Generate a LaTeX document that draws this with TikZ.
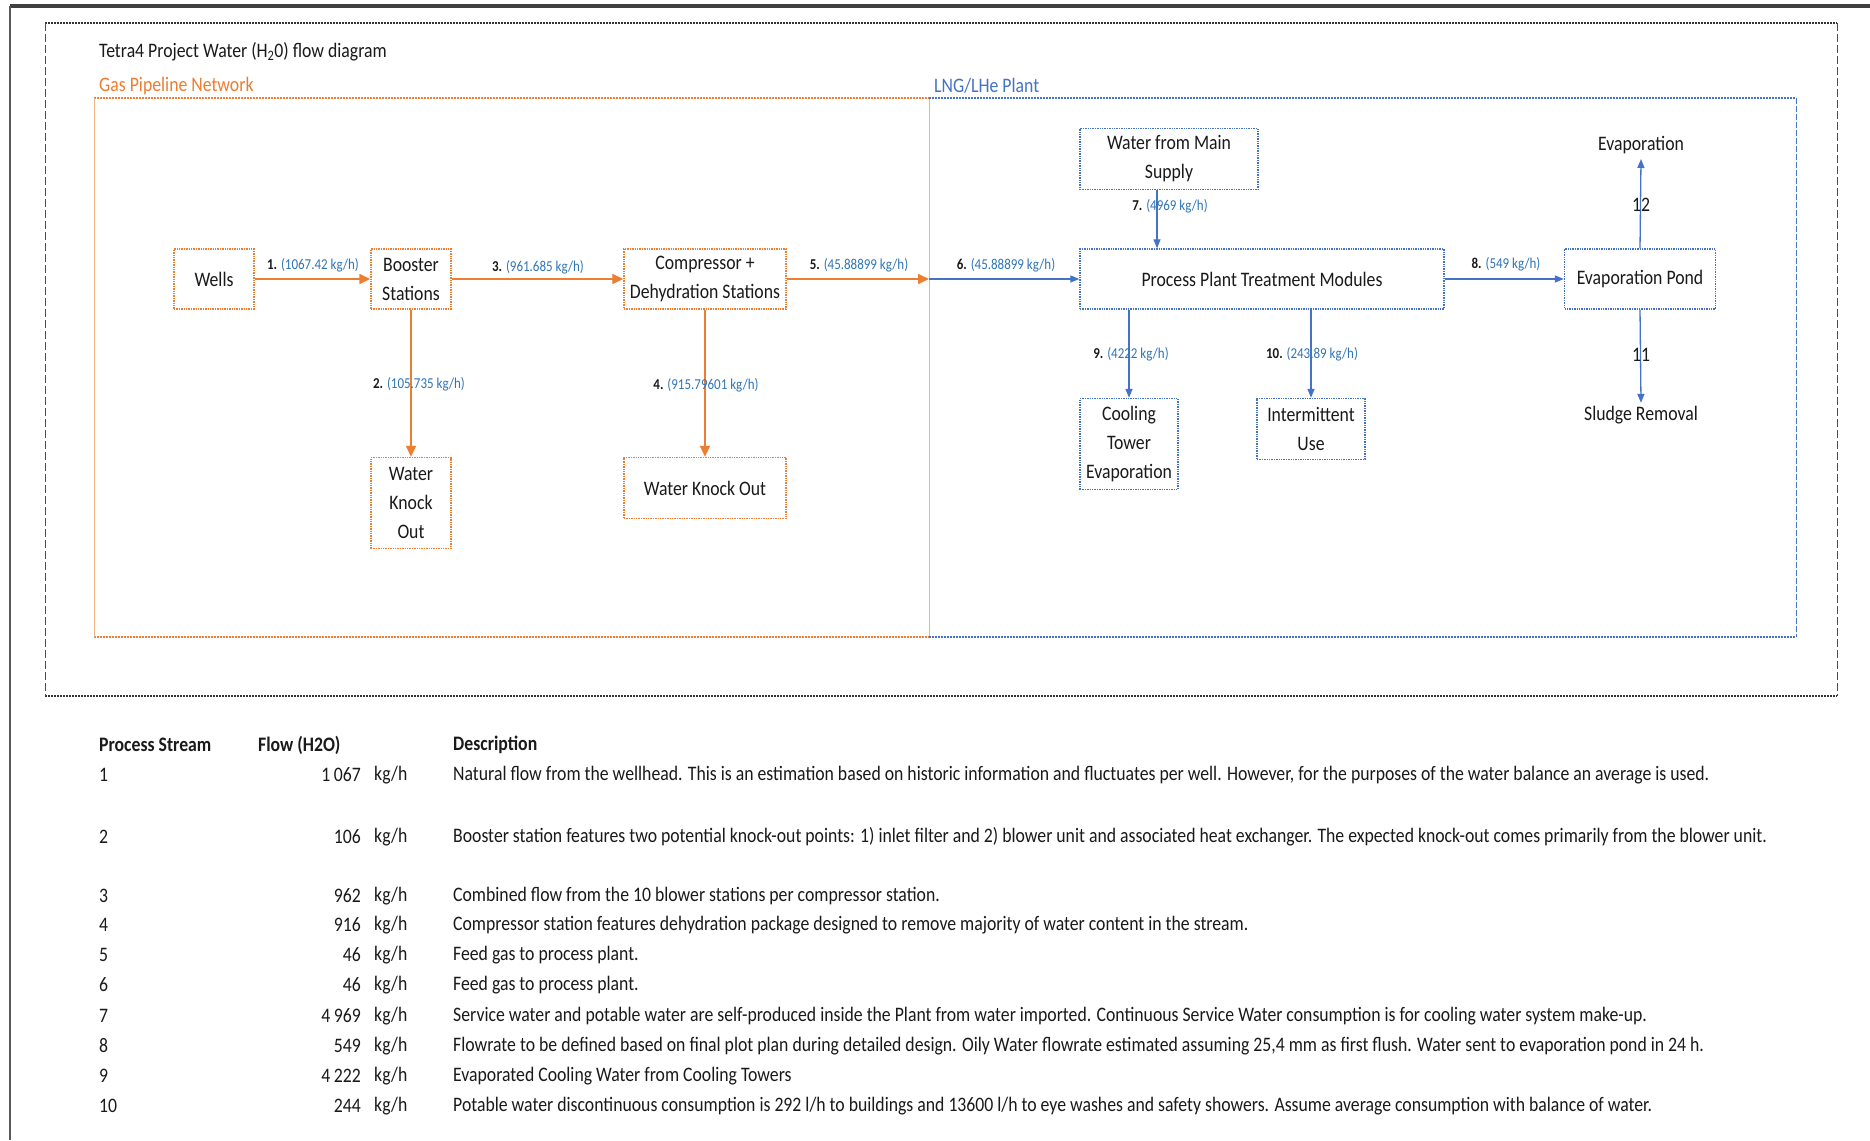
\documentclass[tikz,border=0pt]{standalone}
\usepackage{fontspec}
\setmainfont{Carlito}[FakeStretch=0.86]
\usetikzlibrary{arrows.meta,calc}
\definecolor{orng}{HTML}{ED7D31}
\definecolor{lorng}{HTML}{F4B183}
\definecolor{blu}{HTML}{4472C4}
\definecolor{lblu}{HTML}{2E75B6}
\definecolor{ink}{HTML}{1A1A1A}
\begin{document}
\begin{tikzpicture}[x=1pt,y=-1pt,
  font=\fontsize{20.6}{29}\selectfont, text=ink,
  box/.style={rectangle, line width=1.4pt, dash pattern=on 1.4pt off 1pt, align=center, inner sep=0pt},
  obox/.style={box, draw=orng},
  bbox/.style={box, draw=blu},
  oarr/.style={draw=orng, line width=1.6pt, -{Triangle[length=11pt,width=10pt]}},
  barr/.style={draw=blu, line width=1.3pt, -{Triangle[length=9pt,width=7pt]}},
  lbl/.style={font=\fontsize{15.1}{17}\selectfont, inner sep=0pt},
  txt/.style={inner sep=0pt},
  tbl/.style={anchor=west, inner sep=0pt},
  tbr/.style={anchor=east, inner sep=0pt},
  thead/.style={anchor=west, inner sep=0pt, font=\fontsize{20.6}{24}\selectfont\bfseries}
]
\useasboundingbox[fill=white] (0,0) rectangle (1870,1140);

% page edges
\draw[black!75, line width=4pt] (10,6) -- (1870,6);
\draw[black!65, line width=1.5pt] (10,6) -- (10,1140);

% outer dashed frame
\draw[black!80, line width=1.8pt, dash pattern=on 2pt off 1pt] (45,23) -- (1837,23);
\draw[black!80, line width=1.8pt, dash pattern=on 2pt off 1pt] (45,696) -- (1837,696);
\draw[black!70, line width=0.8pt, dash pattern=on 8pt off 3pt] (45,23) -- (45,696);
\draw[black!70, line width=0.8pt, dash pattern=on 8pt off 3pt] (1837,23) -- (1837,696);

% zone frames
\draw[orng, line width=2pt, dash pattern=on 2pt off 1pt] (94,98) -- (929,98);
\draw[orng, line width=2pt, dash pattern=on 2pt off 1pt] (94,637) -- (929,637);
\draw[lorng, line width=0.8pt] (94,98) -- (94,637);
\draw[lorng, line width=0.8pt] (929,98) -- (929,637);
\draw[blu, line width=2pt, dash pattern=on 2pt off 1pt] (929,98) -- (1796,98);
\draw[blu, line width=2pt, dash pattern=on 2pt off 1pt] (929,637) -- (1796,637);
\draw[blu, line width=0.8pt, dash pattern=on 6pt off 2pt] (1796,98) -- (1796,637);

% titles
\node[txt, anchor=west] (title) at (99,52) {Tetra4 Project Water (H\textsubscript{2}0) flow diagram};
\node[txt, anchor=west, text=orng] (gpn) at (99,86) {Gas Pipeline Network};
\node[txt, anchor=west, text=blu] (lng) at (934,86) {LNG/LHe Plant};

% nodes - gas pipeline
\node[obox, minimum width=80pt, minimum height=60pt] (wells) at (214,279) {Wells};
\node[obox, minimum width=80pt, minimum height=60pt] (booster) at (411,279) {Booster\\Stations};
\node[obox, minimum width=162pt, minimum height=60pt] (comp) at (705,279) {Compressor +\\Dehydration Stations};
\node[obox, minimum width=80pt, minimum height=91pt] (wko1) at (411,503) {Water\\Knock\\Out};
\node[obox, minimum width=162pt, minimum height=61pt] (wko2) at (705,488) {Water Knock Out};

% nodes - plant
\node[bbox, minimum width=178pt, minimum height=61pt] (main) at (1169,159) {Water from Main\\Supply};
\node[bbox, minimum width=364pt, minimum height=60pt] (ppt) at (1262,279) {Process Plant Treatment Modules};
\node[bbox, minimum width=151pt, minimum height=60pt] (pond) at (1640,279) {Evaporation Pond};
\node[bbox, minimum width=98pt, minimum height=91pt] (cool) at (1129,444) {Cooling\\Tower\\Evaporation};
\node[bbox, minimum width=108pt, minimum height=61pt] (inter) at (1311,429) {Intermittent\\Use};
\node[txt, inner sep=5pt] (evap) at (1641,145) {Evaporation};
\node[txt, inner sep=3pt] (sludge) at (1641,415) {Sludge Removal};

% connectors
\coordinate (bd) at (929,279);
\coordinate (m7) at ([xshift=-12pt]main.south);
\draw[oarr] (wells) -- (booster);
\draw[oarr] (booster) -- (comp);
\draw[oarr] (comp.east) -- (bd);
\draw[barr] (bd) -- (ppt.west);
\draw[oarr] (booster.south) -- (wko1.north);
\draw[oarr] (comp.south) -- (wko2.north);
\draw[barr] (m7) -- (m7 |- ppt.north);
\draw[barr] (ppt.east) -- (pond.west);
\draw[barr] (cool.north |- ppt.south) -- (cool.north);
\draw[barr] (inter.north |- ppt.south) -- (inter.north);
\draw[barr] (pond.north) -- (evap.south);
\draw[barr] (pond.south) -- (sludge.north);

% labels
\node[lbl] (l1) at (313,265) {\textbf{1.} \textcolor{lblu}{(1067.42 kg/h)}};
\node[lbl] (l3) at (538,267) {\textbf{3.} \textcolor{lblu}{(961.685 kg/h)}};
\node[lbl] (l5) at (859,265) {\textbf{5.} \textcolor{lblu}{(45.88899 kg/h)}};
\node[lbl] (l6) at (1006,265) {\textbf{6.} \textcolor{lblu}{(45.88899 kg/h)}};
\node[lbl] (l2) at (419,384) {\textbf{2.} \textcolor{lblu}{(105.735 kg/h)}};
\node[lbl] (l4) at (706,385) {\textbf{4.} \textcolor{lblu}{(915.79601 kg/h)}};
\node[lbl] (l7) at (1170,206) {\textbf{7.} \textcolor{lblu}{(4969 kg/h)}};
\node[lbl] (l8) at (1506,264) {\textbf{8.} \textcolor{lblu}{(549 kg/h)}};
\node[lbl] (l9) at (1131,354) {\textbf{9.} \textcolor{lblu}{(4222 kg/h)}};
\node[lbl] (l10) at (1312,354) {\textbf{10.} \textcolor{lblu}{(243.89 kg/h)}};
\node[txt] (l12) at (1641,205) {12};
\node[txt] (l11) at (1641,355) {11};

% table
\node[thead] (h1) at (99,745) {Process Stream};
\node[thead] (h2) at (258,745) {Flow (H2O)};
\node[thead] (h3) at (453,745) {Description};

\node[tbl] (s1) at (99,775) {1};
\node[tbr] (f1) at (361,775) {1\,067};
\node[tbl] (u1) at (374,775) {kg/h};
\node[tbl] (d1) at (453,775) {Natural flow from the wellhead. This is an estimation based on historic information and fluctuates per well. However, for the purposes of the water balance an average is used.};

\node[tbl] (s2) at (99,837) {2};
\node[tbr] (f2) at (361,837) {106};
\node[tbl] (u2) at (374,837) {kg/h};
\node[tbl] (d2) at (453,837) {Booster station features two potential knock-out points: 1) inlet filter and 2) blower unit and associated heat exchanger. The expected knock-out comes primarily from the blower unit.};

\node[tbl] (s3) at (99,896) {3};
\node[tbr] (f3) at (361,896) {962};
\node[tbl] (u3) at (374,896) {kg/h};
\node[tbl] (d3) at (453,896) {Combined flow from the 10 blower stations per compressor station.};

\node[tbl] (s4) at (99,925) {4};
\node[tbr] (f4) at (361,925) {916};
\node[tbl] (u4) at (374,925) {kg/h};
\node[tbl] (d4) at (453,925) {Compressor station features dehydration package designed to remove majority of water content in the stream.};

\node[tbl] (s5) at (99,955) {5};
\node[tbr] (f5) at (361,955) {46};
\node[tbl] (u5) at (374,955) {kg/h};
\node[tbl] (d5) at (453,955) {Feed gas to process plant.};

\node[tbl] (s6) at (99,985) {6};
\node[tbr] (f6) at (361,985) {46};
\node[tbl] (u6) at (374,985) {kg/h};
\node[tbl] (d6) at (453,985) {Feed gas to process plant.};

\node[tbl] (s7) at (99,1016) {7};
\node[tbr] (f7) at (361,1016) {4\,969};
\node[tbl] (u7) at (374,1016) {kg/h};
\node[tbl] (d7) at (453,1016) {Service water and potable water are self-produced inside the Plant from water imported. Continuous Service Water consumption is for cooling water system make-up.};

\node[tbl] (s8) at (99,1046) {8};
\node[tbr] (f8) at (361,1046) {549};
\node[tbl] (u8) at (374,1046) {kg/h};
\node[tbl] (d8) at (453,1046) {Flowrate to be defined based on final plot plan during detailed design. Oily Water flowrate estimated assuming 25,4 mm as first flush. Water sent to evaporation pond in 24 h.};

\node[tbl] (s9) at (99,1076) {9};
\node[tbr] (f9) at (361,1076) {4\,222};
\node[tbl] (u9) at (374,1076) {kg/h};
\node[tbl] (d9) at (453,1076) {Evaporated Cooling Water from Cooling Towers};

\node[tbl] (s10) at (99,1106) {10};
\node[tbr] (f10) at (361,1106) {244};
\node[tbl] (u10) at (374,1106) {kg/h};
\node[tbl] (d10) at (453,1106) {Potable water discontinuous consumption is 292 l/h to buildings and 13600 l/h to eye washes and safety showers. Assume average consumption with balance of water.};
\end{tikzpicture}
\end{document}
